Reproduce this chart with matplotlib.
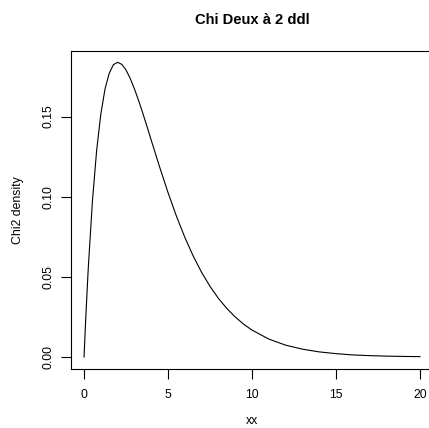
import numpy as np
import matplotlib
matplotlib.use('Agg')
import matplotlib.pyplot as plt

# values
xx = [0, 0.1, 0.25, 0.5, 0.75, 1.0, 1.25, 1.5, 1.75, 2.0, 2.25, 2.5, 2.75,
      3.0, 3.25, 3.5, 3.75, 4.0, 4.5, 5.0, 5.5, 6.0, 6.5, 7.0, 7.5, 8.0,
      8.5, 9.0, 9.5, 10, 11, 12, 13, 14, 15, 16, 17, 18, 19, 20]
dens = [0.0, 0.0238, 0.0552, 0.0974, 0.1289, 0.1516, 0.1673, 0.1771, 0.1824,
        0.1839, 0.1826, 0.1791, 0.1738, 0.1673, 0.1600, 0.1521, 0.1438,
        0.1353, 0.1186, 0.1026, 0.0879, 0.0747, 0.0630, 0.0528, 0.0441,
        0.0366, 0.0303, 0.0250, 0.0205, 0.0168, 0.0112, 0.0074, 0.0049,
        0.0032, 0.0021, 0.0013, 0.00086, 0.00055, 0.00036, 0.00023]
xticks = [0, 5, 10, 15, 20]
yticks = [0.00, 0.05, 0.10, 0.15]

plt.rcParams['font.family'] = ['Liberation Sans', 'DejaVu Sans']

W, H = 429, 428
fig = plt.figure(figsize=(W / 100, H / 100), dpi=100)
# plot region (right side runs off the image like the reference)
left, right = 70.6, 433.4
top, bottom = 50.5, 368.8
ax = fig.add_axes([left / W, (H - bottom) / H, (right - left) / W, (bottom - top) / H])

ax.plot(xx, dens, color='black', linewidth=0.8)

xr = 20 * 0.04
yr = max(dens) * 0.04
ax.set_xlim(0 - xr, 20 + xr)
ax.set_ylim(0 - yr, max(dens) + yr)

ax.set_xticks(xticks)
ax.set_xticklabels([str(t) for t in xticks])
ax.set_yticks(yticks)
ax.set_yticklabels(['%.2f' % t for t in yticks], rotation=90, va='center')
ax.tick_params(length=7, width=0.8, labelsize=8.8)
ax.tick_params(axis='x', pad=7.5)
ax.tick_params(axis='y', pad=4.5)
for s in ax.spines.values():
    s.set_linewidth(0.8)

cx = (left + right) / 2 / W
fig.text(cx, (H - 20) / H, 'Chi Deux à 2 ddl', ha='center', va='center',
         fontsize=10.6, fontweight='bold')
fig.text(cx, 0.5 / H, 'xx', ha='center', va='bottom', fontsize=8.8)
fig.text(18 / W, (H - (top + bottom) / 2) / H, 'Chi2 density', ha='center',
         va='center', fontsize=8.8, rotation=90)

fig.savefig('out.png', dpi=100)
